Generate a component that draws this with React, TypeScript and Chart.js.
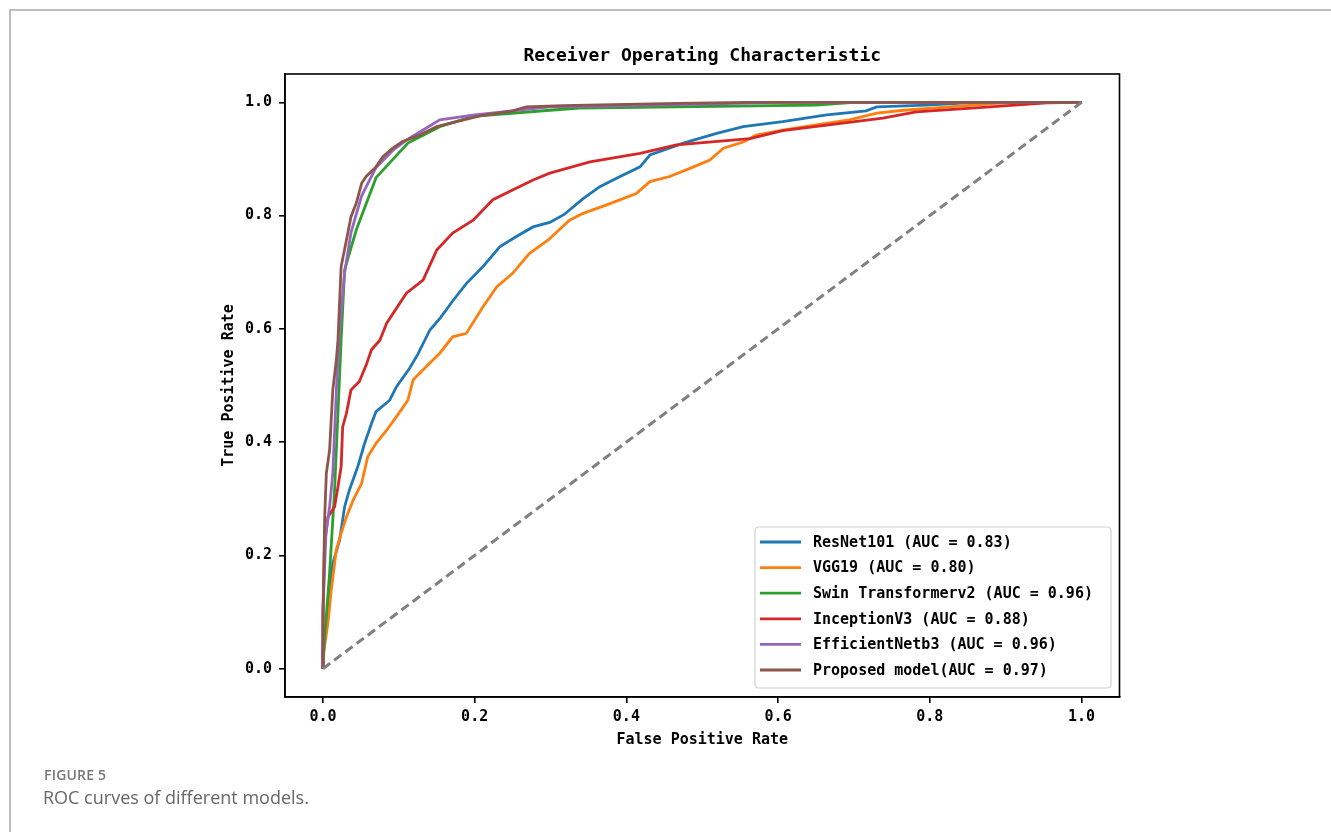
import React, { useEffect, useRef } from "react";
import { Chart, registerables } from "chart.js";

Chart.register(...registerables);

const MONO = '"DejaVu Sans Mono", "Liberation Mono", monospace';

const chartTitle = "Receiver Operating Characteristic";
const xAxisTitle = "False Positive Rate";
const yAxisTitle = "True Positive Rate";
const xTickValues = [0, 0.2, 0.4, 0.6, 0.8, 1.0];
const yTickValues = [0, 0.2, 0.4, 0.6, 0.8, 1.0];

const seriesLabels = [
  "ResNet101 (AUC = 0.83)",
  "VGG19 (AUC = 0.80)",
  "Swin Transformerv2 (AUC = 0.96)",
  "InceptionV3 (AUC = 0.88)",
  "EfficientNetb3 (AUC = 0.96)",
  "Proposed model(AUC = 0.97)",
];
const seriesColors = ["#1f77b4", "#ff7f0e", "#2ca02c", "#d62728", "#9467bd", "#8c564b"];

const resnetFpr = [0, 0, 0.0045, 0.013, 0.022, 0.0286, 0.035, 0.046, 0.055, 0.064, 0.07, 0.088, 0.097, 0.114, 0.125, 0.141, 0.155, 0.172, 0.189, 0.211, 0.233, 0.255, 0.277, 0.299, 0.318, 0.343, 0.365, 0.387, 0.418, 0.431, 0.475, 0.519, 0.554, 0.606, 0.664, 0.716, 0.73, 0.795, 0.86, 1.0];
const resnetTpr = [0, 0.03, 0.08, 0.186, 0.227, 0.286, 0.316, 0.357, 0.398, 0.433, 0.454, 0.474, 0.498, 0.53, 0.555, 0.598, 0.62, 0.651, 0.68, 0.71, 0.745, 0.763, 0.78, 0.788, 0.802, 0.83, 0.851, 0.866, 0.886, 0.907, 0.928, 0.945, 0.957, 0.966, 0.978, 0.985, 0.992, 0.995, 1.0, 1.0];

const vggFpr = [0, 0, 0.0066, 0.011, 0.0176, 0.024, 0.031, 0.04, 0.051, 0.059, 0.07, 0.084, 0.097, 0.112, 0.119, 0.136, 0.154, 0.171, 0.189, 0.211, 0.229, 0.25, 0.272, 0.297, 0.325, 0.343, 0.374, 0.413, 0.431, 0.457, 0.483, 0.51, 0.528, 0.554, 0.571, 0.606, 0.65, 0.694, 0.73, 0.765, 0.826, 0.888, 0.93, 1.0];
const vggTpr = [0, 0.02, 0.08, 0.139, 0.21, 0.239, 0.268, 0.298, 0.327, 0.374, 0.398, 0.421, 0.445, 0.474, 0.51, 0.533, 0.557, 0.586, 0.592, 0.639, 0.674, 0.698, 0.733, 0.757, 0.792, 0.804, 0.819, 0.839, 0.86, 0.869, 0.883, 0.898, 0.919, 0.93, 0.942, 0.951, 0.96, 0.969, 0.981, 0.986, 0.992, 0.998, 1.0, 1.0];

const swinFpr = [0, 0.002, 0.0088, 0.0154, 0.024, 0.0286, 0.044, 0.07, 0.112, 0.154, 0.198, 0.299, 0.338, 0.65, 0.7, 1.0];
const swinTpr = [0, 0.05, 0.169, 0.316, 0.58, 0.704, 0.775, 0.867, 0.928, 0.957, 0.975, 0.986, 0.99, 0.995, 1.0, 1.0];

const inceptionFpr = [0, 0, 0.002, 0.0066, 0.0154, 0.0198, 0.024, 0.026, 0.031, 0.037, 0.048, 0.057, 0.064, 0.075, 0.084, 0.11, 0.132, 0.15, 0.171, 0.198, 0.224, 0.25, 0.277, 0.299, 0.352, 0.418, 0.466, 0.563, 0.606, 0.738, 0.782, 0.87, 0.954, 1.0];
const inceptionTpr = [0, 0.1, 0.216, 0.268, 0.286, 0.321, 0.357, 0.427, 0.451, 0.492, 0.507, 0.536, 0.563, 0.58, 0.61, 0.663, 0.686, 0.739, 0.769, 0.792, 0.828, 0.845, 0.863, 0.875, 0.895, 0.91, 0.925, 0.936, 0.95, 0.972, 0.983, 0.991, 0.999, 1.0];

const efficientFpr = [0, 0, 0.004, 0.0088, 0.013, 0.018, 0.022, 0.0286, 0.037, 0.051, 0.07, 0.092, 0.112, 0.132, 0.154, 0.2, 0.299, 0.356, 0.5, 0.6, 1.0];
const efficientTpr = [0, 0.1, 0.24, 0.286, 0.345, 0.5, 0.6, 0.699, 0.77, 0.835, 0.885, 0.915, 0.935, 0.951, 0.969, 0.978, 0.992, 0.993, 0.997, 1.0, 1.0];

const proposedFpr = [0, 0, 0.0022, 0.0045, 0.0088, 0.013, 0.0177, 0.0198, 0.024, 0.031, 0.037, 0.044, 0.051, 0.057, 0.07, 0.079, 0.092, 0.105, 0.127, 0.15, 0.176, 0.207, 0.25, 0.268, 0.316, 0.466, 0.56, 1.0];
const proposedTpr = [0, 0.068, 0.263, 0.345, 0.386, 0.492, 0.545, 0.58, 0.71, 0.757, 0.798, 0.822, 0.857, 0.869, 0.886, 0.904, 0.919, 0.931, 0.942, 0.957, 0.966, 0.976, 0.985, 0.992, 0.994, 0.998, 1.0, 1.0];

const chanceFpr = [0, 1];
const chanceTpr = [0, 1];

const seriesFpr = [resnetFpr, vggFpr, swinFpr, inceptionFpr, efficientFpr, proposedFpr];
const seriesTpr = [resnetTpr, vggTpr, swinTpr, inceptionTpr, efficientTpr, proposedTpr];

const toPoints = (xs: number[], ys: number[]) => xs.map((x, i) => ({ x, y: ys[i] }));

const overlayPlugin = {
  id: "overlay",
  afterDraw(chart: any) {
    const { ctx, chartArea } = chart;
    const { left, top, right, bottom } = chartArea;
    ctx.save();
    ctx.strokeStyle = "#000";
    ctx.lineWidth = 1.6;
    ctx.strokeRect(left, top, right - left, bottom - top);
    ctx.fillStyle = "#000";
    ctx.font = `bold 18px ${MONO}`;
    ctx.textAlign = "center";
    ctx.textBaseline = "middle";
    ctx.fillText(chartTitle, (left + right) / 2, 56);
    const bx = 755, by = 527, bw = 356, bh = 161, r = 4;
    ctx.beginPath();
    ctx.moveTo(bx + r, by);
    ctx.lineTo(bx + bw - r, by);
    ctx.quadraticCurveTo(bx + bw, by, bx + bw, by + r);
    ctx.lineTo(bx + bw, by + bh - r);
    ctx.quadraticCurveTo(bx + bw, by + bh, bx + bw - r, by + bh);
    ctx.lineTo(bx + r, by + bh);
    ctx.quadraticCurveTo(bx, by + bh, bx, by + bh - r);
    ctx.lineTo(bx, by + r);
    ctx.quadraticCurveTo(bx, by, bx + r, by);
    ctx.closePath();
    ctx.fillStyle = "rgba(255,255,255,0.85)";
    ctx.fill();
    ctx.strokeStyle = "#d0d0d0";
    ctx.lineWidth = 1.2;
    ctx.stroke();
    ctx.font = `bold 15px ${MONO}`;
    ctx.textAlign = "left";
    ctx.textBaseline = "middle";
    seriesLabels.forEach((label, i) => {
      const y = 542 + i * 25.6;
      ctx.strokeStyle = seriesColors[i];
      ctx.lineWidth = 2.8;
      ctx.beginPath();
      ctx.moveTo(760, y);
      ctx.lineTo(801, y);
      ctx.stroke();
      ctx.fillStyle = "#000";
      ctx.fillText(label, 813, y + 1);
    });
    ctx.restore();
  },
};

export default function App() {
  const canvasRef = useRef<HTMLCanvasElement | null>(null);

  useEffect(() => {
    if (!canvasRef.current) return;
    const datasets: any[] = seriesLabels.map((label, i) => ({
      label,
      data: toPoints(seriesFpr[i], seriesTpr[i]),
      borderColor: seriesColors[i],
      backgroundColor: seriesColors[i],
      borderWidth: 2.8,
      pointRadius: 0,
      tension: 0,
      fill: false,
      order: seriesLabels.length - i,
    }));
    datasets.push({
      label: "chance",
      data: toPoints(chanceFpr, chanceTpr),
      borderColor: "#808080",
      borderWidth: 3,
      borderDash: [9, 5],
      pointRadius: 0,
      fill: false,
      order: 0,
    });

    const tickFont = { family: MONO, size: 15, weight: "bold" as const };

    const chart = new Chart(canvasRef.current, {
      type: "line",
      data: { datasets },
      options: {
        responsive: false,
        maintainAspectRatio: false,
        animation: false,
        layout: { padding: { left: 205, top: 74, right: 211.5, bottom: 65 } },
        plugins: { legend: { display: false }, tooltip: { enabled: false }, title: { display: false } },
        scales: {
          x: {
            type: "linear",
            min: -0.05,
            max: 1.05,
            afterFit: (s: any) => { s.height = 70; },
            afterBuildTicks: (s: any) => { s.ticks = xTickValues.map((v) => ({ value: v })); },
            grid: { display: true, drawOnChartArea: false, drawTicks: true, tickLength: 6, color: "#000", lineWidth: 1.6 },
            border: { display: true, color: "#000", width: 1.6 },
            ticks: {
              color: "#000",
              font: tickFont,
              padding: 5,
              maxRotation: 0,
              autoSkip: false,
              callback: (v: any) => Number(v).toFixed(1),
            },
            title: { display: true, text: xAxisTitle, color: "#000", font: tickFont, padding: { top: 0, bottom: 18 } },
          },
          y: {
            type: "linear",
            min: -0.05,
            max: 1.05,
            afterFit: (s: any) => { s.width = 80; },
            afterBuildTicks: (s: any) => { s.ticks = yTickValues.map((v) => ({ value: v })); },
            grid: { display: true, drawOnChartArea: false, drawTicks: true, tickLength: 6, color: "#000", lineWidth: 1.6 },
            border: { display: true, color: "#000", width: 1.6 },
            ticks: {
              color: "#000",
              font: tickFont,
              padding: 7,
              autoSkip: false,
              callback: (v: any) => Number(v).toFixed(1),
            },
            title: { display: true, text: yAxisTitle, color: "#000", font: tickFont, padding: { top: 15, bottom: 0 } },
          },
        },
      },
      plugins: [overlayPlugin],
    });
    return () => chart.destroy();
  }, []);

  return (
    <div style={{ position: "absolute", left: 0, top: 0, width: 1331, height: 832, background: "#fff", overflow: "hidden" }}>
      <div style={{ position: "absolute", left: 9, top: 9, width: 1322, height: 2, background: "#bdbdbd" }} />
      <div style={{ position: "absolute", left: 9, top: 9, width: 2, height: 823, background: "#bdbdbd" }} />
      <canvas ref={canvasRef} width={1331} height={832} style={{ position: "absolute", left: 0, top: 0 }} />
      <div style={{ position: "absolute", left: 44, top: 765, fontFamily: '"Open Sans", sans-serif', fontSize: 14, fontWeight: 600, color: "#777", letterSpacing: 0.2 }}>
        FIGURE 5
      </div>
      <div style={{ position: "absolute", left: 43, top: 785, fontFamily: '"Open Sans", sans-serif', fontSize: 18, fontWeight: 400, color: "#666" }}>
        ROC curves of different models.
      </div>
    </div>
  );
}
